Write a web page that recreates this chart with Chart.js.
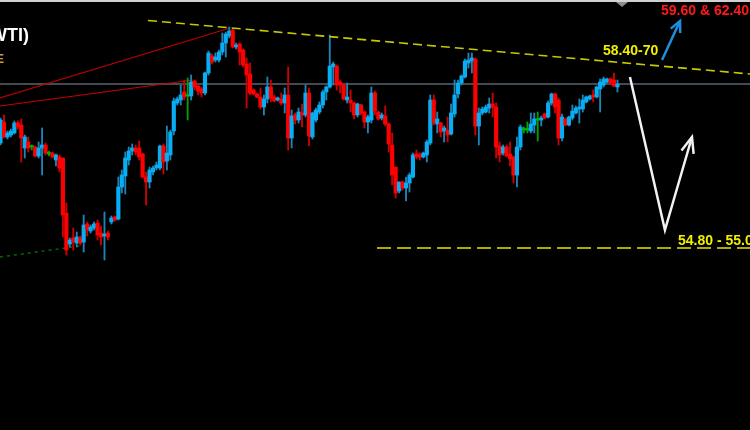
<!DOCTYPE html>
<html><head><meta charset="utf-8">
<script src="https://cdn.jsdelivr.net/npm/chart.js@4"></script>
<style>html,body{margin:0;padding:0;background:#000;}canvas{display:block;}</style>
</head><body>
<canvas id="c" width="750" height="430"></canvas>
<script>
const openPrices=[56.94,57.36,57.06,57.10,57.14,57.34,57.30,56.84,56.96,56.86,
56.86,56.68,56.84,56.90,56.72,56.74,56.60,56.66,56.64,55.54,
54.92,55.04,54.94,55.04,54.96,55.32,55.18,55.24,55.34,55.14,
55.08,55.14,55.36,55.46,55.42,56.06,56.28,56.60,56.78,56.84,
56.84,56.72,56.26,56.16,56.36,56.44,56.44,56.88,56.58,56.70,
57.18,57.74,57.80,57.96,57.88,57.88,58.18,58.08,58.02,57.94,
58.34,58.68,58.60,58.60,58.76,58.94,59.08,59.20,58.86,58.92,
58.80,58.52,58.32,58.00,57.92,57.86,57.66,57.82,58.06,57.86,
57.80,57.82,57.74,57.90,57.04,57.50,57.40,57.54,57.50,57.94,
57.06,57.40,57.56,57.70,57.96,58.06,58.46,58.48,58.16,58.10,
57.80,57.80,57.74,57.50,57.70,57.56,57.36,57.40,57.94,57.56,
57.44,57.48,57.32,56.90,56.46,55.98,56.16,56.04,56.14,56.26,
56.72,56.70,56.66,56.70,56.94,57.80,57.32,57.34,57.18,57.20,
57.12,57.52,57.92,58.14,58.26,58.54,58.58,58.62,57.28,57.54,
57.56,57.64,57.72,57.66,56.88,56.74,56.86,56.72,56.66,56.30,
56.86,57.20,57.20,57.18,57.30,57.40,57.40,57.52,57.46,57.74,
57.92,57.80,57.04,57.42,57.30,57.44,57.54,57.62,57.62,57.76,
57.82,57.90,57.86,58.02,58.10,58.16,58.22,58.20,58.06];
const highPrices=[57.44,57.50,57.18,57.22,57.38,57.38,57.42,57.10,57.06,56.90,
56.88,56.96,57.24,56.94,56.78,56.76,56.72,56.70,56.64,55.74,
55.04,55.24,55.16,55.08,55.50,55.36,55.30,55.36,55.40,55.28,
55.56,55.18,55.48,55.48,56.26,56.40,56.76,56.86,56.92,56.90,
56.98,56.74,56.36,56.46,56.48,56.56,56.90,56.92,57.28,57.20,
57.84,57.86,58.10,58.20,58.24,58.30,58.20,58.10,58.06,58.36,
58.78,58.72,58.74,58.80,59.14,59.16,59.26,59.22,58.94,58.94,
58.82,58.64,58.54,58.02,57.94,58.04,57.90,58.26,58.20,57.90,
57.86,57.94,58.04,58.46,57.60,57.54,57.64,57.72,58.10,58.04,
57.56,57.64,57.76,58.00,58.08,59.10,58.56,58.50,58.20,58.12,
58.14,58.00,57.76,57.74,57.72,57.58,57.50,58.06,57.98,57.58,
57.54,57.68,57.34,57.14,56.46,56.16,56.18,56.26,56.34,56.74,
56.80,56.74,56.76,57.00,57.90,57.90,57.56,57.36,57.28,57.46,
57.72,58.20,58.20,58.30,58.62,58.74,58.74,58.64,57.64,57.66,
57.70,57.84,57.94,57.74,56.96,56.90,56.90,56.96,56.68,57.06,
57.30,57.26,57.36,57.54,57.54,57.56,57.48,57.54,57.78,57.94,
57.94,57.84,57.52,57.44,57.48,57.70,57.68,57.82,57.90,57.88,
57.90,58.00,58.08,58.22,58.26,58.24,58.24,58.34,58.20];
const lowPrices=[56.90,57.04,57.02,57.06,57.12,57.22,56.56,56.64,56.76,56.80,
56.66,56.64,56.30,56.70,56.68,56.64,56.48,56.36,55.06,54.70,
54.86,54.80,54.86,54.90,54.76,55.08,55.14,55.20,55.00,54.90,
54.60,55.00,55.32,55.38,55.40,55.94,55.92,56.50,56.70,56.70,
56.60,56.24,55.70,56.04,56.30,56.40,56.40,56.32,56.40,56.60,
57.10,57.70,57.70,57.80,57.40,57.80,58.00,57.90,57.86,57.90,
58.30,58.52,58.56,58.56,58.70,58.66,59.04,58.84,58.82,58.50,
58.46,57.64,57.90,57.90,57.84,57.62,57.50,57.74,57.76,57.76,
57.78,57.70,57.54,56.80,56.84,57.32,57.34,57.26,57.46,56.88,
57.02,57.36,57.52,57.64,57.80,58.04,58.10,58.00,57.94,57.80,
57.74,57.56,57.42,57.46,57.50,57.24,57.14,57.34,57.50,57.40,
57.40,57.28,56.76,56.10,55.84,55.94,56.00,55.78,55.96,56.24,
56.62,56.60,56.64,56.56,56.90,57.30,57.14,57.06,56.96,56.96,
57.10,57.46,57.84,58.10,58.24,58.44,58.34,57.10,56.90,57.50,
57.54,57.54,57.46,56.64,56.56,56.70,56.66,56.48,56.14,56.06,
56.80,57.14,57.14,57.14,57.14,56.98,57.28,57.42,57.44,57.70,
57.54,56.90,56.98,57.28,57.28,57.40,57.52,57.34,57.56,57.74,
57.80,57.76,57.84,57.56,58.06,58.14,58.12,58.06,57.96];
const closePrices=[57.40,57.06,57.14,57.18,57.34,57.26,57.04,57.06,56.84,56.86,
56.68,56.84,56.90,56.74,56.72,56.66,56.70,56.44,55.50,54.80,
55.00,54.96,55.06,54.94,55.30,55.20,55.26,55.32,55.10,55.06,
55.12,55.06,55.44,55.40,56.06,56.30,56.64,56.78,56.84,56.76,
56.66,56.26,56.16,56.40,56.44,56.50,56.88,56.56,56.74,57.16,
57.78,57.82,57.90,57.86,57.88,58.16,58.06,57.98,57.94,58.34,
58.74,58.56,58.66,58.76,58.94,59.12,59.18,58.86,58.90,58.76,
58.50,58.30,57.94,57.92,57.86,57.66,57.82,58.06,57.84,57.78,
57.84,57.74,57.90,57.04,57.48,57.40,57.56,57.50,57.94,57.08,
57.54,57.60,57.70,57.96,58.06,58.48,58.52,58.10,58.10,57.82,
57.86,57.74,57.50,57.72,57.54,57.36,57.46,57.94,57.58,57.42,
57.50,57.32,56.92,56.30,55.94,56.16,56.04,56.14,56.30,56.70,
56.66,56.66,56.74,56.96,57.80,57.34,57.42,57.16,57.24,57.10,
57.54,57.90,58.14,58.28,58.58,58.60,58.64,57.28,57.54,57.62,
57.66,57.72,57.66,56.86,56.70,56.86,56.68,56.62,56.30,56.86,
57.26,57.20,57.20,57.32,57.42,57.40,57.44,57.44,57.74,57.92,
57.66,57.04,57.46,57.30,57.46,57.58,57.64,57.66,57.80,57.86,
57.88,57.86,58.06,58.16,58.22,58.22,58.14,58.08,58.12];

// reference levels and drawn lines, in (bar index, price) units
const pivotLevel=58.12;
const resistanceLine=[[42.56,59.39],[216.24,58.32]];
const redTrendA=[[-0.144,57.84],[66.21,59.24]];
const redTrendB=[[-0.144,57.68],[55.54,58.20]];
const greenTrend=[[-0.144,54.66],[22.94,54.88]];
const targetLine=[[108.63,54.84],[216.24,54.84]];
const bearPath=[[181.6,58.26],[191.7,55.20],[199.5,57.06]];
const bullPath=[[190.86,58.60],[196.05,59.38]];
const labels={target:'54.80 - 55.00',resistance:'58.40-70',upside:'59.60 & 62.40',title:'Crude Oil (WTI)'};

const X_MIN=-0.144, X_MAX=216.24, Y_MIN=51.2, Y_MAX=59.8;
const idx=openPrices.map((_,i)=>i);
const dir=idx.map(i=>closePrices[i]>openPrices[i]?1:(closePrices[i]<openPrices[i]?-1:0));
const bodyCol=dir.map(d=>d>0?'#08aef4':(d<0?'#ff0000':'#00b400'));
const wickCol=dir.map(d=>d>0?'#1d84b8':(d<0?'#d00000':'#00a000'));
const toPts=a=>a.map(p=>({x:p[0],y:p[1]}));
const lineDs=(data,color,width,dash,order)=>({type:'line',data:toPts(data),borderColor:color,borderWidth:width,borderDash:dash,pointRadius:0,fill:false,tension:0,order:order});

function arrowHead(ctx,from,to,len,ang){
  const a=Math.atan2(to[1]-from[1],to[0]-from[0]);
  ctx.beginPath();
  ctx.moveTo(to[0]-len*Math.cos(a-ang),to[1]-len*Math.sin(a-ang));
  ctx.lineTo(to[0],to[1]);
  ctx.lineTo(to[0]-len*Math.cos(a+ang),to[1]-len*Math.sin(a+ang));
  ctx.stroke();
}
const overlay={id:'overlay',
  beforeDraw(chart){const c=chart.ctx;c.save();c.fillStyle='#000';c.fillRect(0,0,chart.width,chart.height);c.restore();},
  afterDatasetsDraw(chart){
    const ctx=chart.ctx,xs=chart.scales.x,ys=chart.scales.y;
    const P=p=>[xs.getPixelForValue(p[0]),ys.getPixelForValue(p[1])];
    ctx.save();
    ctx.strokeStyle='#f2f2f2';ctx.lineWidth=2.5;ctx.lineJoin='miter';
    ctx.beginPath();
    bearPath.forEach((p,i)=>{const q=P(p);i?ctx.lineTo(q[0],q[1]):ctx.moveTo(q[0],q[1]);});
    ctx.stroke();
    arrowHead(ctx,P(bearPath[1]),P(bearPath[2]),17,0.38);
    ctx.strokeStyle='#1c90e0';ctx.lineWidth=2.5;
    ctx.beginPath();const b0=P(bullPath[0]),b1=P(bullPath[1]);
    ctx.moveTo(b0[0],b0[1]);ctx.lineTo(b1[0],b1[1]);ctx.stroke();
    arrowHead(ctx,b0,b1,12,0.45);
    ctx.textBaseline='middle';
    ctx.font='bold 14px "Liberation Sans", Arial, sans-serif';
    ctx.fillStyle='#ff1a1a';ctx.textAlign='right';ctx.fillText(labels.upside,749,11);
    ctx.textAlign='left';
    ctx.fillStyle='#f0f000';ctx.fillText(labels.resistance,603,51);
    ctx.fillText(labels.target,678,241);
    ctx.font='bold 18px "Liberation Sans", Arial, sans-serif';
    ctx.fillStyle='#ffffff';ctx.textAlign='right';ctx.fillText(labels.title,29,36);
    ctx.font='bold 12px "Liberation Sans", Arial, sans-serif';
    ctx.fillStyle='#d89a48';ctx.fillText('H4 : E',4,60);
    ctx.fillStyle='#d0d0d0';ctx.fillRect(0,0,chart.width,2);
    ctx.fillStyle='#8c8c8c';ctx.beginPath();ctx.moveTo(616,2);ctx.lineTo(628,2);ctx.lineTo(622,7);ctx.closePath();ctx.fill();
    ctx.restore();
  }
};

new Chart(document.getElementById('c'),{
  type:'bar',
  data:{datasets:[
    {label:'wick',data:idx.map(i=>({x:i,y:[lowPrices[i],highPrices[i]]})),backgroundColor:wickCol,barThickness:1.2,grouped:false,order:1},
    {label:'body',data:idx.map(i=>({x:i,y:[openPrices[i],closePrices[i]]})),backgroundColor:bodyCol,barThickness:3.5,minBarLength:1.5,grouped:false,order:0},
    lineDs([[X_MIN,pivotLevel],[X_MAX,pivotLevel]],'#8595a6',1,[],5),
    lineDs(redTrendA,'#b80000',1.2,[],4),
    lineDs(redTrendB,'#c80000',1.2,[],4),
    lineDs(greenTrend,'#006a00',1.5,[3,4],4),
    lineDs(resistanceLine,'#c8c800',1.6,[9,5],-1),
    lineDs(targetLine,'#e6e600',1.5,[14,6],-1)
  ]},
  options:{
    responsive:false,animation:false,devicePixelRatio:1,
    layout:{padding:0},
    plugins:{legend:{display:false},tooltip:{enabled:false}},
    scales:{
      x:{type:'linear',min:X_MIN,max:X_MAX,offset:false,display:false},
      y:{type:'linear',min:Y_MIN,max:Y_MAX,display:false}
    }
  },
  plugins:[overlay]
});
</script>
</body></html>
